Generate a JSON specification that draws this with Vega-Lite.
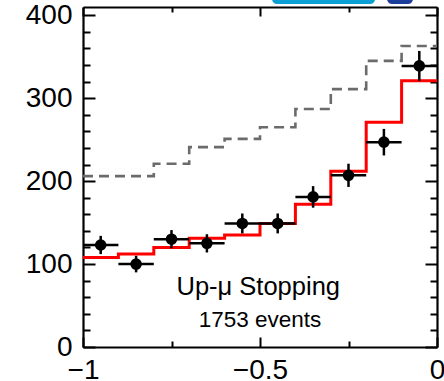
{
  "$schema": "https://vega.github.io/schema/vega-lite/v6.json",
  "width": 354,
  "height": 340,
  "autosize": "none",
  "padding": {"left": 83, "top": 7, "right": 7, "bottom": 34},
  "background": "white",
  "config": {
    "view": {"stroke": null},
    "axis": {
      "domainColor": "black", "domainWidth": 2.2, "tickColor": "black", "tickWidth": 2,
      "labelFont": "Liberation Sans", "labelFontSize": 28, "labelColor": "black",
      "grid": false, "title": null, "labelFlush": false, "labelOverlap": false
    }
  },
  "datasets": {
    "bins": [
      {"x0": -1.0, "x1": -0.9, "xc": -0.95, "n": 123, "lo": 112, "hi": 134},
      {"x0": -0.9, "x1": -0.8, "xc": -0.85, "n": 100, "lo": 90, "hi": 110},
      {"x0": -0.8, "x1": -0.7, "xc": -0.75, "n": 130, "lo": 119, "hi": 141},
      {"x0": -0.7, "x1": -0.6, "xc": -0.65, "n": 125, "lo": 114, "hi": 136},
      {"x0": -0.6, "x1": -0.5, "xc": -0.55, "n": 149, "lo": 137, "hi": 161},
      {"x0": -0.5, "x1": -0.4, "xc": -0.45, "n": 149, "lo": 137, "hi": 161},
      {"x0": -0.4, "x1": -0.3, "xc": -0.35, "n": 181, "lo": 168, "hi": 194},
      {"x0": -0.3, "x1": -0.2, "xc": -0.25, "n": 207, "lo": 193, "hi": 221},
      {"x0": -0.2, "x1": -0.1, "xc": -0.15, "n": 247, "lo": 231, "hi": 263},
      {"x0": -0.1, "x1": 0.0, "xc": -0.05, "n": 339, "lo": 321, "hi": 357}
    ],
    "edges": [
      {"x": -1.0, "mc": 108, "bg": 206},
      {"x": -0.9, "mc": 112, "bg": 206},
      {"x": -0.8, "mc": 120, "bg": 221},
      {"x": -0.7, "mc": 131, "bg": 241},
      {"x": -0.6, "mc": 135, "bg": 251},
      {"x": -0.5, "mc": 149, "bg": 265},
      {"x": -0.4, "mc": 172, "bg": 287},
      {"x": -0.3, "mc": 212, "bg": 311},
      {"x": -0.2, "mc": 271, "bg": 345},
      {"x": -0.1, "mc": 321, "bg": 363},
      {"x": 0.0, "mc": 321, "bg": 363}
    ],
    "logo": [
      {"part": "light", "x0": -0.466, "x1": -0.175, "y0": 413.5, "y1": 432},
      {"part": "dark", "x0": -0.141, "x1": -0.068, "y0": 413.5, "y1": 432}
    ]
  },
  "resolve": {"axis": {"x": "independent", "y": "independent"}},
  "layer": [
    {
      "data": {"name": "edges"},
      "mark": {"type": "line", "interpolate": "step-after", "color": "#6b6b6b", "strokeWidth": 2.6, "strokeDash": [10, 6]},
      "encoding": {
        "x": {"field": "x", "type": "quantitative", "scale": {"domain": [-1, 0], "nice": false, "zero": false},
          "axis": {"orient": "bottom", "values": [-1, -0.5, 0], "tickSize": -10, "labelPadding": 19, "format": "~g"}},
        "y": {"field": "bg", "type": "quantitative", "scale": {"domain": [0, 410], "nice": false},
          "axis": {"orient": "left", "values": [0, 100, 200, 300, 400], "tickSize": -12, "labelPadding": 23}}
      }
    },
    {
      "data": {"name": "edges"},
      "mark": {"type": "line", "interpolate": "step-after", "color": "#ff0000", "strokeWidth": 3},
      "encoding": {
        "x": {"field": "x", "type": "quantitative",
          "axis": {"orient": "top", "values": [-1, -0.5, 0], "tickSize": -9, "labels": false}},
        "y": {"field": "mc", "type": "quantitative",
          "axis": {"orient": "right", "values": [0, 100, 200, 300, 400], "tickSize": -12, "labels": false}}
      }
    },
    {
      "data": {"name": "bins"},
      "mark": {"type": "rule", "color": "black", "strokeWidth": 2.5},
      "encoding": {
        "x": {"field": "xc", "type": "quantitative",
          "axis": {"orient": "bottom", "values": [-0.75, -0.25], "tickSize": -6, "labels": false, "domain": false}},
        "y": {"field": "lo", "type": "quantitative",
          "axis": {"orient": "left", "values": [20, 40, 60, 80, 120, 140, 160, 180, 220, 240, 260, 280, 320, 340, 360, 380], "tickSize": -7, "labels": false, "domain": false}},
        "y2": {"field": "hi"}
      }
    },
    {
      "data": {"name": "bins"},
      "mark": {"type": "rule", "color": "black", "strokeWidth": 2.5},
      "encoding": {
        "x": {"field": "x0", "type": "quantitative",
          "axis": {"orient": "top", "values": [-0.75, -0.25], "tickSize": -5, "labels": false, "domain": false}},
        "x2": {"field": "x1"},
        "y": {"field": "n", "type": "quantitative",
          "axis": {"orient": "right", "values": [20, 40, 60, 80, 120, 140, 160, 180, 220, 240, 260, 280, 320, 340, 360, 380], "tickSize": -7, "labels": false, "domain": false}}
      }
    },
    {
      "data": {"name": "bins"},
      "mark": {"type": "point", "filled": true, "color": "black", "opacity": 1, "size": 135, "shape": "circle"},
      "encoding": {
        "x": {"field": "xc", "type": "quantitative", "axis": null},
        "y": {"field": "n", "type": "quantitative", "axis": null}
      }
    },
    {
      "data": {"values": [{"x": -0.505, "y": 63, "label": "Up-μ Stopping"}]},
      "mark": {"type": "text", "font": "Liberation Sans", "fontSize": 25.5, "align": "center", "baseline": "alphabetic", "color": "black"},
      "encoding": {
        "x": {"field": "x", "type": "quantitative", "axis": null},
        "y": {"field": "y", "type": "quantitative", "axis": null},
        "text": {"field": "label"}
      }
    },
    {
      "data": {"values": [{"x": -0.5, "y": 24.5, "label": "1753 events"}]},
      "mark": {"type": "text", "font": "Liberation Sans", "fontSize": 22.5, "align": "center", "baseline": "alphabetic", "color": "black"},
      "encoding": {
        "x": {"field": "x", "type": "quantitative", "axis": null},
        "y": {"field": "y", "type": "quantitative", "axis": null},
        "text": {"field": "label"}
      }
    },
    {
      "data": {"name": "logo"},
      "mark": {"type": "rect", "cornerRadius": 5},
      "encoding": {
        "x": {"field": "x0", "type": "quantitative", "axis": null},
        "x2": {"field": "x1"},
        "y": {"field": "y0", "type": "quantitative", "axis": null},
        "y2": {"field": "y1"},
        "color": {"field": "part", "type": "nominal", "legend": null,
          "scale": {"domain": ["light", "dark"], "range": ["#0aa0d6", "#1b3d9c"]}}
      }
    }
  ]
}
